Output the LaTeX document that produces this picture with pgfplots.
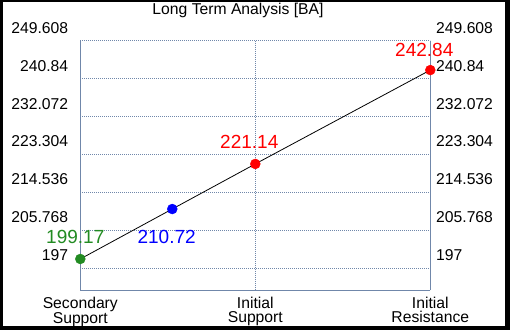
\documentclass[border=0pt]{standalone}
\usepackage{pgfplots}
\pgfplotsset{compat=1.18}
\usepackage{fontspec}
\setmainfont{Liberation Sans}
\definecolor{gridc}{RGB}{112,135,170}
\definecolor{ptgreen}{RGB}{34,139,34}
\definecolor{ptblue}{RGB}{0,0,255}
\definecolor{ptred}{RGB}{255,0,0}

\pgfplotstableread{
x y
0 199.17
1.051 210.72
2 221.14
4 242.84
}\linedata

\pgfplotsset{
  basefr/.style={
    scale only axis, width=350bp, height=249.2bp,
    at={(80.3bp,40bp)}, anchor=south west,
    xmin=0, xmax=4, ymin=192, ymax=249.608,
    ytick={197,205.768,214.536,223.304,232.072,240.84,249.608},
    yticklabels={197,205.768,214.536,223.304,232.072,240.84,249.608},
    major tick length=0pt,
    tick label style={font=\fontsize{15.7bp}{13.5bp}\selectfont},
    clip=false,
  },
  lbl/.style={nodes near coords, point meta=explicit symbolic,
    every node near coord/.append style={anchor=center, inner sep=0pt,
      font=\fontsize{19bp}{22bp}\selectfont, text=#1}},
}

\begin{document}
\begin{tikzpicture}
\fill[black] (0,0) rectangle (510bp,330bp);
\fill[white] (3bp,4bp) rectangle (505bp,328bp);
\useasboundingbox (0,0) rectangle (510bp,330bp);
\node[font=\fontsize{15.7bp}{18bp}\selectfont, inner sep=0pt] at (238bp,320bp) {Long Term Analysis [BA]};

\begin{axis}[basefr,
  xtick={0,2,4},
  xticklabels={{Secondary\\Support},{Initial\\Support},{Initial\\Resistance}},
  grid=major,
  grid style={gridc, line width=1bp, dash pattern=on 1bp off 1bp},
  axis x line*=bottom, axis y line*=box,
  axis line style={gridc, line width=1bp},
  yticklabel style={anchor=east, inner sep=0pt, xshift=-12bp, yshift=13bp},
  xticklabel style={align=center, anchor=north, inner sep=0pt, yshift=-7bp},
]
\addplot[black, line width=0.8bp] table[x=x,y=y] {\linedata};
\addplot[only marks, mark=*, mark size=5bp, ptgreen, lbl=ptgreen,
  every node near coord/.append style={xshift=-5bp, yshift=22bp}]
  coordinates {(0,199.17) [199.17]};
\addplot[only marks, mark=*, mark size=5bp, ptblue, lbl=ptblue,
  every node near coord/.append style={xshift=-5.6bp, yshift=-28bp}]
  coordinates {(1.051,210.72) [210.72]};
\addplot[only marks, mark=*, mark size=5bp, ptred, lbl=ptred,
  every node near coord/.append style={xshift=-6bp, yshift=21.7bp}]
  coordinates {(2,221.14) [221.14]};
\addplot[only marks, mark=*, mark size=5bp, ptred, lbl=ptred,
  every node near coord/.append style={xshift=-6bp, yshift=20bp}]
  coordinates {(4,242.84) [242.84]};
\end{axis}

\begin{axis}[basefr,
  xtick=\empty,
  axis x line=none,
  axis y line*=right,
  y axis line style={draw=none},
  yticklabel style={anchor=west, inner sep=0pt, xshift=5.7bp, yshift=13bp},
]
\addplot[draw=none] coordinates {(0,200)};
\end{axis}
\end{tikzpicture}
\end{document}
